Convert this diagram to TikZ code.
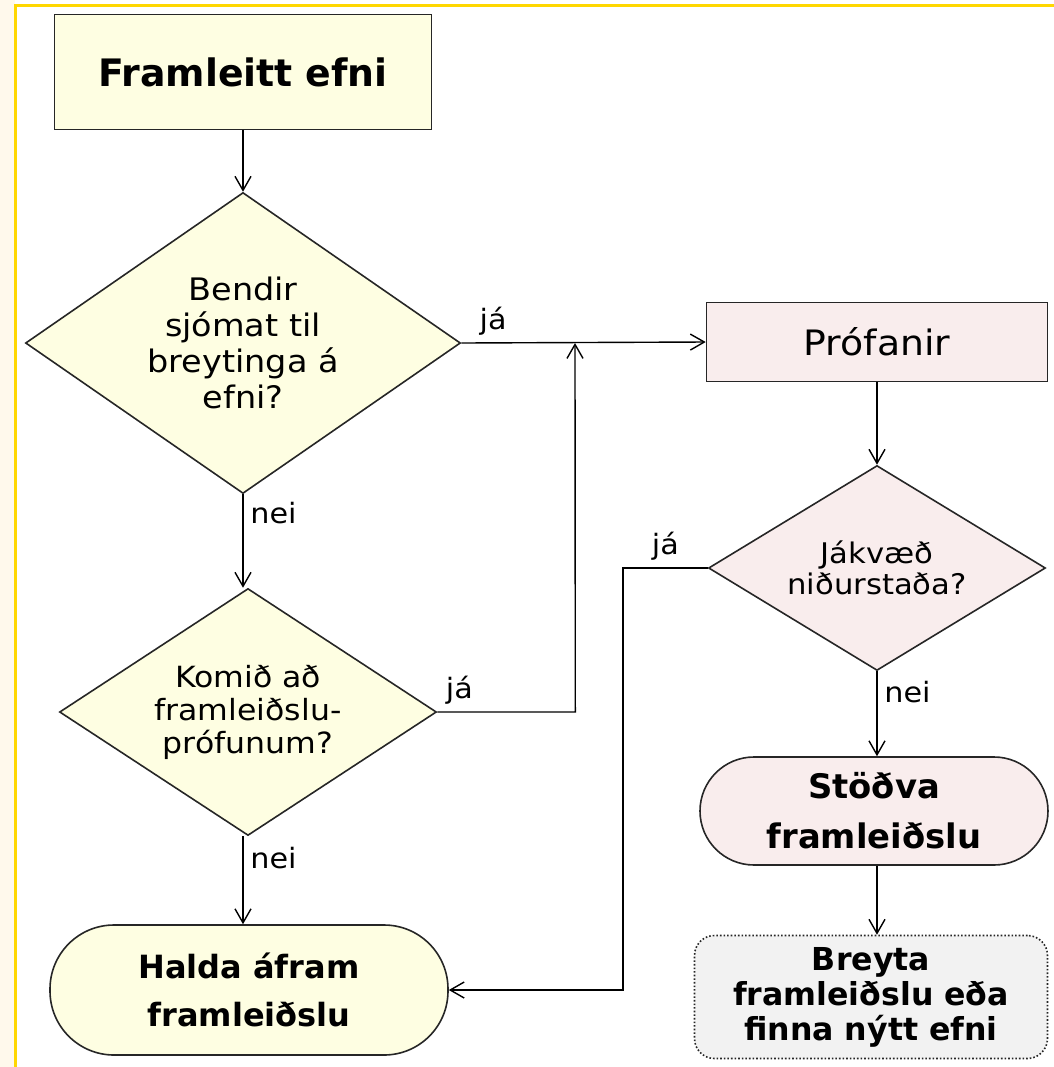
\documentclass[tikz,border=0pt]{standalone}
\usepackage{fontspec}
\setmainfont{DejaVu Sans}
\newfontfamily\widefont{DejaVu Sans}[FakeStretch=1.08]
\usetikzlibrary{shapes.geometric,arrows.meta}
\definecolor{strip}{HTML}{FFF9EC}
\definecolor{frame}{HTML}{FFD700}
\definecolor{yel}{HTML}{FEFEE2}
\definecolor{pnk}{HTML}{F9EDED}
\definecolor{gry}{HTML}{F2F2F2}
\tikzset{
  box/.style={draw=black!85,line width=0.8pt,inner sep=0pt,align=center},
  dec/.style={box,shape=diamond},
  lab/.style={font=\widefont\fontsize{14}{16}\selectfont},
  >={Straight Barb[length=7pt,width=8pt]}
}
\begin{document}
\begin{tikzpicture}[x=0.5pt,y=-0.5pt,line width=0.7pt]
\useasboundingbox (0,0) rectangle (1054,1067);
\fill[strip] (0,0) rectangle (15,1067);
\draw[frame,line width=1.5pt] (15,1067) -- (15,5) -- (1054,5);
\node[box,fill=yel,minimum width=188.5pt,minimum height=57.5pt,font=\fontsize{18.9}{22}\selectfont\bfseries] (N0) at (243,72) {Framleitt efni};
\node[dec,fill=yel,aspect=1.445,minimum width=217.5pt,minimum height=150.5pt,font=\widefont\fontsize{15.5}{18}\selectfont] (N1) at (243,343) {Bendir\\sjómat til\\breytinga á\\efni?};
\node[dec,fill=yel,aspect=1.53,minimum width=188.5pt,minimum height=123.5pt,font=\widefont\fontsize{14.6}{16.5}\selectfont] (N2) at (248,712) {Komið að\\framleiðslu-\\prófunum?};
\node[box,fill=yel,rounded corners=32pt,minimum width=199pt,minimum height=65pt,font=\fontsize{16}{24}\selectfont\bfseries] (N3) at (249,990) {Halda áfram\\framleiðslu};
\node[box,fill=pnk,minimum width=170.5pt,minimum height=39.5pt,font=\widefont\fontsize{17.5}{20}\selectfont] (N4) at (877,342) {Prófanir};
\node[dec,fill=pnk,aspect=1.64,minimum width=168.5pt,minimum height=102.5pt,font=\widefont\fontsize{14.2}{15.5}\selectfont] (N5) at (877,568) {Jákvæð\\niðurstaða?};
\node[box,fill=pnk,rounded corners=27pt,minimum width=174pt,minimum height=54pt,font=\fontsize{16.9}{25}\selectfont\bfseries] (N6) at (874,811) {Stöðva\\framleiðslu};
\node[box,fill=gry,densely dotted,rounded corners=10pt,minimum width=176.5pt,minimum height=61.5pt,font=\fontsize{15.8}{17.5}\selectfont\bfseries] (N7) at (871,997) {Breyta\\framleiðslu eða\\finna nýtt efni};
\coordinate (J1) at (575,343);
\coordinate (J2) at (623,568);
\draw[->] (N0) -- (N1);
\draw[->] (N1.east) -- node[lab,pos=0.13,above] {já} (N4.west);
\draw[->] (N1.south) -- node[lab,pos=0.2,right] {nei} (N1.south |- N2.north);
\draw[->] (N2.east) -- node[lab,pos=0.16,above] {já} ++(138,0) -- (J1);
\draw[->] (N1.south |- N2.south) -- node[lab,pos=0.25,right] {nei} (N1.south |- N3.north);
\draw[->] (N4) -- (N5);
\draw[->] (N5.west) -- node[lab,above] {já} (J2) |- (N3.east);
\draw[->] (N5.south) -- node[lab,pos=0.25,right] {nei} (N5.south |- N6.north);
\draw[->] (N5.south |- N6.south) -- (N5.south |- N7.north);
\end{tikzpicture}
\end{document}
